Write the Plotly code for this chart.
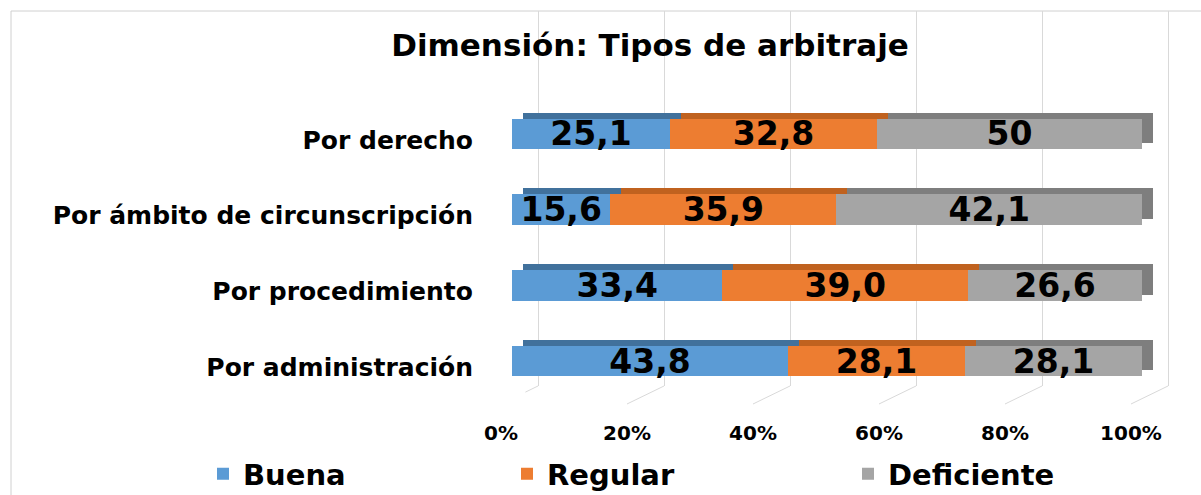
import plotly.graph_objects as go

# ---- data ----
categorias = ["Por derecho", "Por ámbito de circunscripción", "Por procedimiento", "Por administración"]
series = ["Buena", "Regular", "Deficiente"]
buena = [25.1, 15.6, 33.4, 43.8]
regular = [32.8, 35.9, 39.0, 28.1]
deficiente = [50, 42.1, 26.6, 28.1]            # printed labels
deficiente_largo = [42.1, 48.5, 27.6, 28.1]    # drawn bar length
buena_txt = ["25,1", "15,6", "33,4", "43,8"]
regular_txt = ["32,8", "35,9", "39,0", "28,1"]
deficiente_txt = ["50", "42,1", "26,6", "28,1"]
tick_vals = [0, 20, 40, 60, 80, 100]
tick_text = ["0%", "20%", "40%", "60%", "80%", "100%"]
titulo = "Dimensión: Tipos de arbitraje"

# ---- style ----
W, H = 1201, 495
FONT = "DejaVu Sans"
front_colors = ["#5b9bd5", "#ed7d31", "#a5a5a5"]
top_colors = ["#41719c", "#c0621f", "#7e7e7e"]
grid_color = "#d9d9d9"

def px(x):
    return x / W

def py(y):
    return 1 - y / H

fig = go.Figure()

# subplot x/y: back-wall gridlines
fig.add_trace(go.Scatter(x=[None], y=[None], xaxis="x", yaxis="y", mode="markers",
                         showlegend=False, hoverinfo="skip"))

# subplot x2/y2: depth (top & side faces) of the bars
for vals, col in zip([buena, regular, deficiente_largo], top_colors):
    fig.add_trace(go.Bar(y=categorias, x=vals, orientation="h", xaxis="x2", yaxis="y2",
                         marker=dict(color=col, line=dict(width=0)),
                         showlegend=False, hoverinfo="skip"))

# subplot x3/y3: front faces with value labels
legend_ids = ["legend", "legend2", "legend3"]
for name, vals, txt, col, lg in zip(series, [buena, regular, deficiente_largo],
                                    [buena_txt, regular_txt, deficiente_txt], front_colors, legend_ids):
    fig.add_trace(go.Bar(y=categorias, x=vals, orientation="h", xaxis="x3", yaxis="y3",
                         name=name, text=txt, textposition="inside", legend=lg,
                         insidetextanchor="middle", constraintext="none",
                         textfont=dict(family=FONT, size=33, color="black", weight="bold"),
                         marker=dict(color=col, line=dict(width=0))))

shapes = []
shapes.append(dict(type="rect", xref="paper", yref="paper", x0=px(11), x1=1.02,
                   y0=-0.02, y1=py(11), line=dict(color="#d0d0d0", width=1), layer="below"))
for t in tick_vals:
    shapes.append(dict(type="line", xref="x", xsizemode="pixel", xanchor=t, x0=0, x1=-37,
                       yref="paper", ysizemode="pixel", yanchor=py(386), y0=0, y1=-18,
                       line=dict(color=grid_color, width=1)))

def legend_at(x_px):
    return dict(orientation="h", x=px(x_px), y=py(474), xanchor="left", yanchor="middle",
                font=dict(family=FONT, size=29, color="black", weight="bold"),
                bgcolor="rgba(0,0,0,0)")

unit = 630 / 100  # pixels per percent on the back wall
fig.update_layout(
    width=W, height=H,
    margin=dict(l=0, r=0, t=0, b=0, autoexpand=False),
    paper_bgcolor="white", plot_bgcolor="rgba(0,0,0,0)",
    barmode="stack", bargap=0.6,
    uniformtext=dict(minsize=33, mode="show"),
    title=dict(text=titulo, x=px(650), y=py(45), xanchor="center", yanchor="middle",
               font=dict(family=FONT, size=31, color="black", weight="bold")),
    xaxis=dict(domain=[px(538 - 2 * unit), px(1168 + 2 * unit)], range=[-2, 102], tickvals=tick_vals,
               showgrid=True, gridcolor=grid_color, gridwidth=1, showticklabels=False,
               zeroline=False, showline=False, anchor="y", fixedrange=True, automargin=False),
    yaxis=dict(domain=[py(386), py(11)], range=[0, 1], visible=False, anchor="x", automargin=False),
    xaxis2=dict(domain=[px(523), px(1153)], range=[0, 100], visible=False, anchor="y2", automargin=False),
    yaxis2=dict(domain=[py(399 - 6), py(96 - 6)], range=[3.5, -0.5], type="category",
                categoryorder="array", categoryarray=categorias, visible=False, anchor="x2",
                automargin=False),
    xaxis3=dict(domain=[px(512), px(1142)], range=[0, 100], tickvals=tick_vals,
                ticktext=tick_text, showgrid=False, zeroline=False, showline=False,
                ticklabelshift=-11, ticklabelstandoff=20, anchor="y3", automargin=False,
                tickfont=dict(family=FONT, size=20, color="black", weight="bold")),
    yaxis3=dict(domain=[py(399), py(96)], range=[3.5, -0.5], type="category",
                categoryorder="array", categoryarray=categorias, showgrid=False,
                zeroline=False, showline=False, ticklabelstandoff=38, anchor="x3",
                automargin=False, ticklabelshift=-6,
                tickfont=dict(family=FONT, size=25, color="black", weight="bold")),
    legend=legend_at(203),
    legend2=legend_at(507),
    legend3=legend_at(848),
    shapes=shapes,
    showlegend=True,
)

fig.write_html("out.html", config={"displayModeBar": False},
               post_script="document.body.style.margin='0';")
